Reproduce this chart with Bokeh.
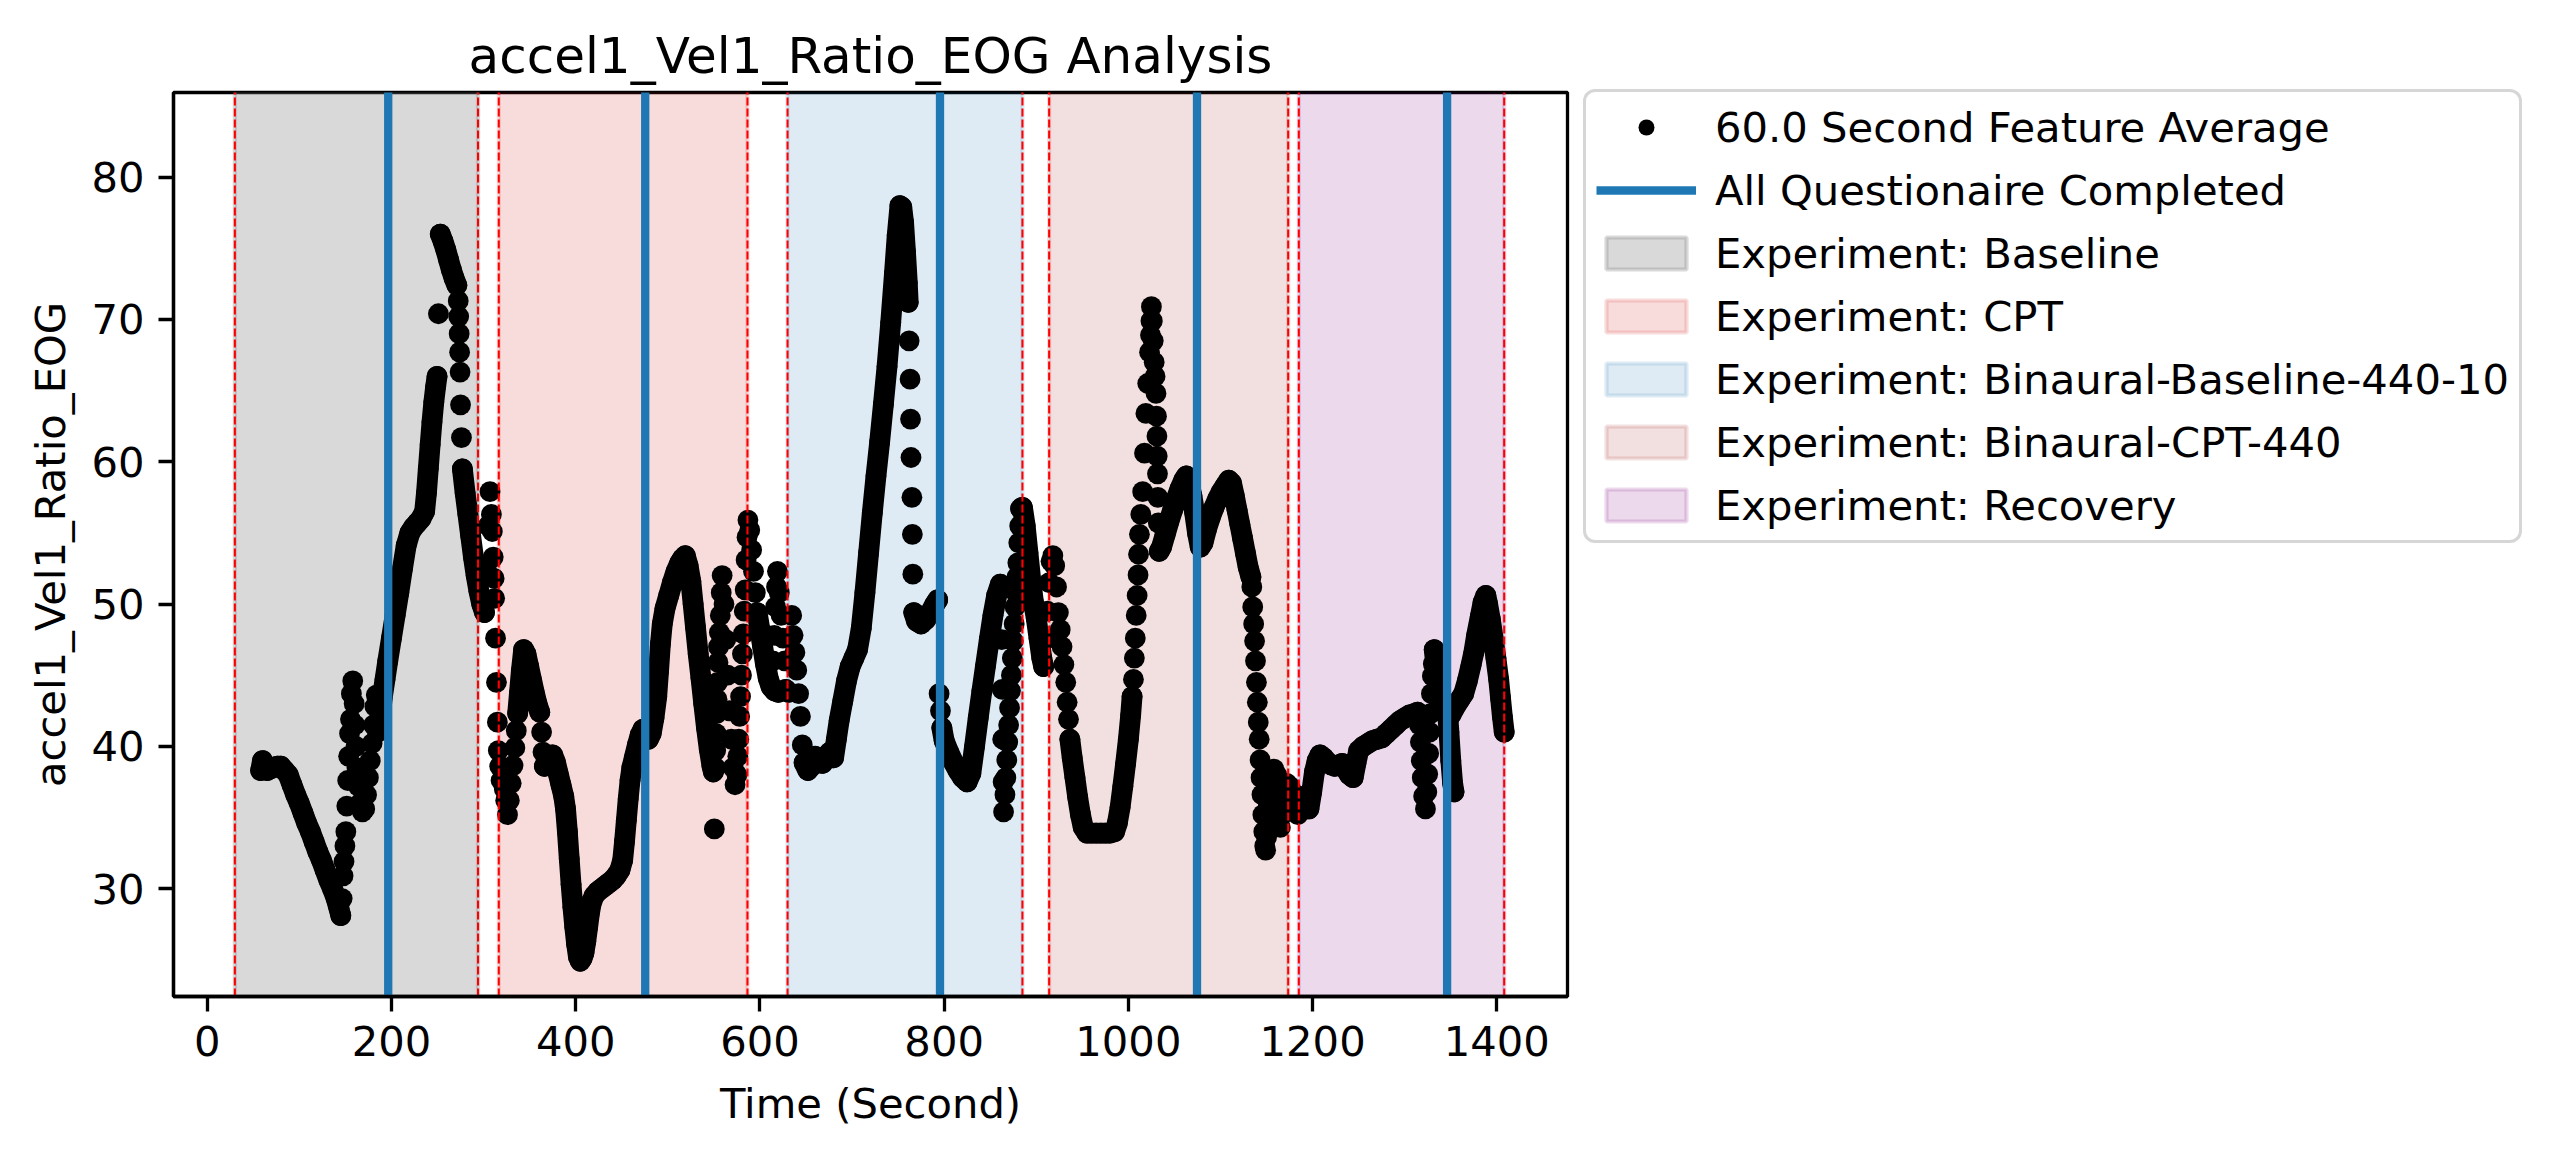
from bokeh.plotting import figure
from bokeh.models import Range1d, FixedTicker, Legend, LegendItem
from bokeh.embed import file_html
from bokeh.resources import INLINE

FONT = "DejaVu Sans"
TXT = "41.7px"

feature = "accel1_Vel1_Ratio_EOG"

# 60 s feature average as (time s, value).
# stretches where the markers run together into a thick trace
trace_runs = [
    [(58, 38.3), (60, 39.0), (62, 38.7), (65, 38.3), (68, 38.4), (72, 38.5), (76, 38.6), (80, 38.6),
     (84, 38.3), (88, 38.0), (92, 37.3), (96, 36.6), (100, 36.0), (104, 35.3), (108, 34.6), (112, 34.0),
     (116, 33.3), (120, 32.6), (124, 32.0), (128, 31.3), (132, 30.6), (136, 30.0), (140, 29.3),
     (143, 28.6), (145, 28.1)],
    [(185, 41.0), (187, 41.5), (190, 43.4), (193, 44.7), (196, 46.0), (200, 47.6), (204, 49.2),
     (208, 50.8), (212, 52.5), (216, 54.1), (220, 55.0), (224, 55.4), (228, 55.7), (232, 56.0),
     (236, 56.5), (238, 57.8), (240, 59.5), (242, 61.2), (244, 62.8), (246, 64.2), (248, 65.3),
     (249.5, 66.0)],
    [(253, 76.0), (256, 75.5), (259, 74.9), (262, 74.2), (265, 73.5), (268, 72.9), (271, 72.4)],
    [(277, 59.5), (280, 57.8), (283, 56.3), (286, 54.8), (289, 53.3), (292, 52.0), (295, 50.9),
     (298, 50.0), (301, 49.4)],
    [(337, 42.3), (339, 43.8), (341, 45.3), (343.5, 46.8), (346, 46.5), (349, 45.6), (352, 44.7),
     (355, 43.8), (358, 43.0), (361, 42.4)],
    [(366, 38.6), (369, 38.9), (372, 39.3), (375, 39.4), (378, 38.9), (381, 38.1), (384, 37.3),
     (387, 36.5), (389, 35.6), (391, 34.0), (393, 32.1), (395, 30.3), (397, 28.7), (399, 27.3),
     (401, 26.1), (403, 25.2), (405, 24.9), (407, 25.1), (409, 25.5), (411, 26.3), (413, 27.3),
     (415, 28.3), (417, 29.0), (420, 29.5), (424, 29.8), (428, 30.0), (432, 30.2), (436, 30.4),
     (440, 30.6), (444, 30.9), (448, 31.3), (451, 32.0), (453, 33.3), (455, 34.8), (457, 36.3),
     (459, 37.6), (461, 38.5), (464, 39.3), (467, 40.1), (470, 40.8), (473, 41.2), (476, 40.8),
     (479, 40.5), (482, 40.9), (485, 42.0), (488, 43.5), (490, 45.3), (492, 47.2), (494, 48.6),
     (497, 49.7), (501, 50.6), (505, 51.5), (509, 52.3), (513, 52.9), (516, 53.2), (519, 53.4),
     (522, 52.7), (525, 51.6), (527.5, 50.0), (530, 48.4), (533, 46.5), (536, 44.8), (539, 43.0),
     (542, 41.3), (545, 39.8), (548, 38.6), (549.5, 38.2)],
    [(597, 49.4), (600, 48.2), (603, 47.0), (606, 45.8), (609, 44.8), (612, 44.2), (616, 43.9),
     (620, 43.8), (624, 43.9), (628, 44.0), (631, 43.8)],
    [(648, 38.85), (652, 38.3), (656, 38.6), (660, 39.3), (664, 39.0), (668, 38.8), (672, 39.3),
     (676, 39.6), (680, 39.2), (683, 40.5), (686, 41.8), (690, 43.2), (694, 44.6), (698, 45.6),
     (702, 46.2), (706, 46.8), (710, 48.3), (714, 50.8), (718, 53.6), (722, 56.4), (726, 59.0),
     (730, 61.4), (734, 64.0), (738, 66.7), (742, 69.8), (746, 73.2), (749, 75.9), (752, 78.0),
     (754, 77.9), (756, 76.8), (758, 74.8), (760, 72.6), (761, 71.2)],
    [(767, 49.4), (770, 48.8), (775, 48.6), (780, 48.9), (785, 49.4), (790, 50.0), (793, 50.3)],
    [(797.5, 41.3), (800, 40.4), (805, 39.6), (810, 38.9), (815, 38.3), (820, 37.8), (825, 37.5),
     (829, 38.1), (833, 40.0), (837, 42.0), (841, 43.9), (845, 45.7), (849, 47.5), (853, 49.2),
     (857, 50.6), (861, 51.4)],
    [(883, 56.7), (885, 56.8), (888, 55.5), (891, 53.6), (894, 51.7), (897, 50.1), (900, 49.0),
     (903, 47.6), (906, 46.2), (908, 45.6)],
    [(936.5, 40.5), (939, 39.2), (942, 37.8), (945, 36.4), (948, 35.2), (951, 34.3), (955, 33.9),
     (960, 33.9), (965, 33.9), (970, 33.9), (975, 33.9), (980, 33.9), (985, 34.0), (988, 34.6),
     (991, 35.7), (994, 37.2), (997, 38.8), (1000, 40.5), (1002.5, 42.2), (1004, 43.5)],
    [(1033.5, 53.7), (1036, 54.0), (1040, 54.9), (1044, 55.8), (1048, 56.6), (1052, 57.4),
     (1056, 58.1), (1060, 58.7), (1063, 59.0), (1066, 58.5), (1069, 57.6), (1072, 56.4),
     (1075, 55.0), (1078, 54.0), (1081, 54.3), (1085, 55.3), (1089, 56.1), (1093, 56.8),
     (1097, 57.4), (1101, 57.9), (1105, 58.3), (1109, 58.7), (1112, 58.5), (1115, 57.6),
     (1118, 56.6), (1121, 55.6), (1124, 54.6), (1127, 53.6), (1130, 52.6), (1133, 51.9)],
    [(1196, 35.6), (1199, 36.8), (1202, 38.2), (1205, 39.0), (1208, 39.4), (1212, 39.2),
     (1216, 38.9), (1220, 38.7), (1224, 38.6), (1228, 38.7), (1232, 38.8), (1236, 38.4),
     (1240, 38.0), (1244, 37.8), (1247, 38.8), (1250, 39.7), (1255, 40.0), (1260, 40.2),
     (1265, 40.4), (1270, 40.5), (1275, 40.6), (1280, 40.9), (1285, 41.2), (1290, 41.5),
     (1295, 41.8), (1300, 42.0), (1305, 42.2), (1310, 42.3), (1314, 42.4)],
    [(1332, 46.8), (1334, 45.5), (1336, 43.8), (1338, 42.6), (1341, 42.5), (1344, 42.8),
     (1346, 42.9), (1348, 41.0), (1350, 39.0), (1352, 37.4), (1353.5, 36.8)],
    [(1350, 42.2), (1355, 42.8), (1360, 43.3), (1364, 43.7), (1368, 44.6), (1372, 45.7),
     (1375, 46.6), (1378, 47.8), (1382, 49.1), (1385, 50.1), (1388, 50.6), (1390, 50.0),
     (1393, 48.9), (1396, 47.6), (1399, 46.2), (1402, 44.7), (1404, 43.4), (1406, 42.1),
     (1408, 41.0)],
]

# places where the average jumps and the markers stand apart
loose_dots = [
    (146.5, 29.3), (147.5, 30.9), (148.5, 31.9), (149.5, 33.0), (150.5, 34.0), (151.5, 35.8),
    (152.5, 37.6), (153.5, 39.3), (154.5, 40.9), (155.5, 41.9), (156.5, 43.7), (158, 44.6),
    (159.5, 43.0), (160.5, 41.5), (161.5, 40.0), (162.5, 38.5), (164, 37.2), (166, 36.0),
    (168.5, 35.4), (171, 35.6), (173, 36.6), (175, 37.8), (177, 39.0), (179, 40.2), (180.5, 41.5),
    (182, 42.8), (183.5, 43.6),
    (251, 70.4),
    (272.5, 71.3), (273, 70.2), (273.5, 69.0), (274, 67.7), (274.5, 66.3), (275, 64.0), (276, 61.7),
    (303, 52.5), (305, 55.5), (307, 57.9), (308.5, 56.3), (309.5, 55.1), (310.5, 53.3), (311.5, 51.8),
    (312, 50.4), (313, 47.6), (314, 44.5), (315, 41.7), (316, 39.7), (317.5, 38.6), (319, 37.6),
    (321, 38.2), (322.5, 37.0), (324, 36.2), (326, 35.2), (328, 36.2), (330, 37.4), (332, 38.65),
    (334, 39.9), (335.5, 41.1),
    (363, 41.0), (364.5, 39.6),
    (550.5, 34.2), (551.5, 38.5), (552, 39.7), (552.5, 40.9), (553, 42.3), (553.5, 43.3), (554, 44.5),
    (554.5, 45.9), (555, 47.0), (556, 48.0), (557, 49.2), (558, 50.8), (559, 52.0), (561, 50.0),
    (563, 47.5), (565, 45.0), (567, 42.5), (569, 40.5), (571, 38.5), (573, 37.3), (575, 38.0),
    (576, 39.3), (577, 40.5), (578, 42.1), (579, 43.5), (580, 45.0), (581, 46.5), (582, 47.9),
    (583, 49.5), (584, 51.0), (585, 53.1), (586, 54.7), (587, 55.9), (589, 55.2), (591, 53.8),
    (593, 52.3), (595, 50.8),
    (614, 46.0), (615.5, 47.8), (617, 49.8), (618, 51.2), (619, 52.3), (621, 50.8), (623, 49.2),
    (625, 47.6), (627, 46.0), (633, 46.0), (634.5, 49.2), (636, 47.8), (638, 46.6), (640, 45.35),
    (642, 43.7), (644, 42.1), (646, 40.1),
    (762, 68.5), (763, 65.8), (763.5, 63.0), (764, 60.3), (765, 57.5), (765.5, 54.9), (766, 52.1),
    (794.5, 43.7), (796, 42.5),
    (862.5, 47.5), (863, 44.0), (863.5, 40.5), (864, 37.5), (864.5, 35.4), (866, 36.6), (867, 37.8),
    (868, 39.05), (869, 40.3), (870, 41.5), (871, 42.7), (872, 43.9), (873, 45.0), (874, 46.2),
    (875, 47.4), (876, 48.6), (877, 49.8), (878, 50.8), (879, 51.9), (880, 52.9), (881, 54.3),
    (882, 55.5),
    (910, 47.5), (912, 49.5), (914, 51.5), (916, 53.0), (918, 53.4), (920, 52.7), (922, 51.2),
    (924, 49.4), (926, 48.2), (928, 47.0), (930, 45.75), (932, 44.5), (933.5, 43.1), (935, 41.9),
    (1005.5, 44.7), (1006.5, 46.2), (1007.5, 47.6), (1008.5, 49.2), (1009.5, 50.6), (1010.5, 52.05),
    (1011, 53.5), (1012, 54.9), (1013.5, 56.3), (1015.5, 57.9), (1017.5, 60.6), (1019, 63.4),
    (1021, 65.5), (1023, 67.7), (1024, 68.9), (1024.5, 69.9), (1025, 70.9), (1026, 69.9),
    (1027, 68.5), (1028, 67.0), (1029, 66.0), (1030, 64.8), (1030.5, 63.2), (1031, 61.8),
    (1031.3, 60.4), (1031.6, 59.15), (1032, 57.5), (1032.5, 55.7),
    (1134, 51.2), (1135, 49.8), (1136, 48.6), (1137, 47.4), (1138, 46.0), (1139, 44.5), (1140, 43.1),
    (1141, 41.7), (1142, 40.5), (1143, 39.05), (1144, 37.8), (1145, 36.6), (1146, 35.2),
    (1147, 34.0), (1148, 33.0), (1149, 32.7), (1150, 33.6), (1151, 34.8), (1152, 35.9),
    (1153, 37.0), (1155, 38.0), (1158, 38.4), (1161, 38.0), (1163, 36.8), (1164, 35.5),
    (1165, 34.3), (1167, 35.2), (1169, 36.5), (1172, 37.4), (1175, 37.2), (1178, 36.8),
    (1181, 35.8), (1184, 35.2), (1187, 35.5), (1190, 36.5), (1193, 36.2),
    (1316, 41.5), (1317, 40.3), (1318, 39.0), (1319, 37.8), (1320.5, 36.5), (1322.5, 35.6),
    (1324, 36.8), (1325, 38.05), (1326, 39.5), (1327, 41.0), (1328, 42.3), (1329, 43.7),
    (1330, 44.95), (1331, 45.8),
]

phase_names = ["Baseline", "CPT", "Binaural-Baseline-440-10", "Binaural-CPT-440", "Recovery"]
phase_start = [30, 316.5, 630, 914, 1185]
phase_end = [294, 586.5, 885, 1173.5, 1408]
questionnaire_done = [196.5, 475.5, 795.5, 1074.5, 1346]

x_ticks = [0, 200, 400, 600, 800, 1000, 1200, 1400]
y_ticks = [30, 40, 50, 60, 70, 80]

phase_colors = ["gray", "#d62728", "#1f77b4", "brown", "purple"]
phase_alpha = [0.3, 0.16, 0.15, 0.15, 0.15]

pts = sorted([pt for run in trace_runs for pt in run] + loose_dots)

p = figure(title=f"{feature} Analysis",
           frame_width=1394, frame_height=904,
           min_border_left=173, min_border_right=973,
           min_border_top=92, min_border_bottom=146,
           x_range=Range1d(-36.6, 1476.7), y_range=Range1d(22.42, 85.95),
           output_backend="svg", toolbar_location=None)

span_r = []
for s, e, c, a in zip(phase_start, phase_end, phase_colors, phase_alpha):
    r = p.quad(left=[s], right=[e], bottom=[0], top=[100],
               fill_color=c, fill_alpha=a, line_color=c, line_alpha=a, line_width=4.2)
    span_r.append(r)

# markers overlap so densely that the trace becomes a stroke of the same width
p.multi_line([[t for t, _ in run] for run in trace_runs],
             [[v for _, v in run] for run in trace_runs],
             line_color="black", line_width=20.8, line_cap="round", line_join="round")
dots = p.scatter([t for t, _ in pts], [v for _, v in pts], size=20.8,
                 fill_color="black", line_color=None)

q_lines = p.segment(x0=questionnaire_done, y0=[0] * len(questionnaire_done),
                    x1=questionnaire_done, y1=[100] * len(questionnaire_done),
                    line_color="#1f77b4", line_width=8.3)

bounds = phase_start + phase_end
p.segment(x0=bounds, y0=[0] * len(bounds), x1=bounds, y1=[100] * len(bounds),
          line_color="red", line_width=2.1, line_dash="8 3")

p.title.align = "center"
p.title.text_font = FONT
p.title.text_font_size = "50px"
p.title.text_font_style = "normal"
p.title.text_color = "black"
p.title.standoff = 16

p.xaxis.axis_label = "Time (Second)"
p.yaxis.axis_label = feature
p.xaxis.ticker = FixedTicker(ticks=x_ticks)
p.yaxis.ticker = FixedTicker(ticks=y_ticks)
for ax in (p.xaxis[0], p.yaxis[0]):
    ax.axis_line_color = "black"
    ax.axis_line_width = 3.3
    ax.major_tick_line_color = "black"
    ax.major_tick_line_width = 3.3
    ax.major_tick_out = 15
    ax.major_tick_in = 0
    ax.minor_tick_line_color = None
    ax.major_label_standoff = 14
    ax.major_label_text_font = FONT
    ax.major_label_text_font_size = TXT
    ax.major_label_text_color = "black"
    ax.axis_label_text_font = FONT
    ax.axis_label_text_font_size = TXT
    ax.axis_label_text_font_style = "normal"
    ax.axis_label_text_color = "black"
p.xaxis.axis_label_standoff = 20
p.yaxis.axis_label_standoff = 13

p.grid.visible = False
p.outline_line_color = "black"
p.outline_line_width = 3.3
p.outline_line_alpha = 1.0
p.background_fill_color = "white"
p.border_fill_color = "white"

items = [LegendItem(label="60.0 Second Feature Average", renderers=[dots]),
         LegendItem(label="All Questionaire Completed", renderers=[q_lines])]
for name, r in zip(phase_names, span_r):
    items.append(LegendItem(label=f"Experiment: {name}", renderers=[r]))

# rows 50 px + 13 px gap, 10 px padding -> 449 px tall; top sits 2 px under the frame top
legend = Legend(items=items, location=(16, 904 - 2 - 449), margin=0,
                label_text_font=FONT, label_text_font_size=TXT, label_text_color="black",
                glyph_width=100, glyph_height=40, label_standoff=19,
                label_height=50, padding=10, spacing=13,
                border_line_color="#cccccc", border_line_width=3, border_line_alpha=0.8,
                background_fill_color="white", background_fill_alpha=0.8)
if "border_radius" in Legend.properties():
    legend.border_radius = 12
p.add_layout(legend, "right")

open("out.html", "w").write(file_html(p, INLINE))
